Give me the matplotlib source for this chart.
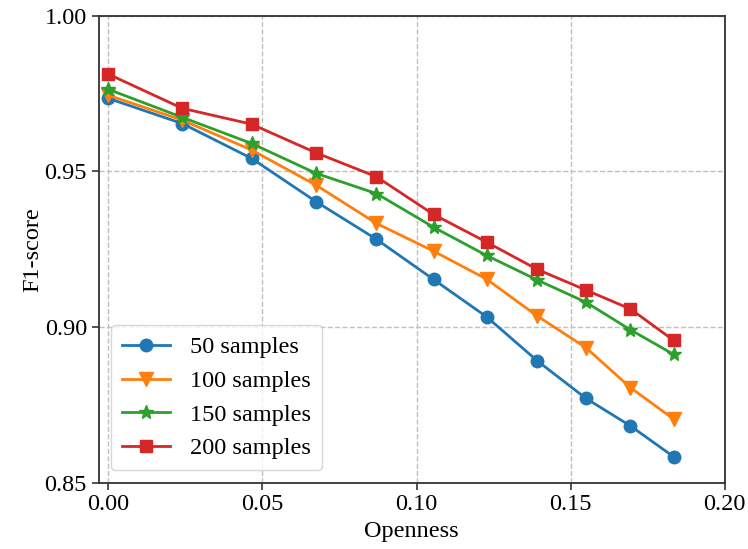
import matplotlib
matplotlib.use("Agg")
import matplotlib.pyplot as plt

plt.rcParams['font.family'] = ['Liberation Serif', 'DejaVu Serif']
plt.rcParams['mathtext.fontset'] = 'stix'

openness = [0.0, 0.0240, 0.0465, 0.0674, 0.0870, 0.1055, 0.1227, 0.1392, 0.1549, 0.1694, 0.1834]

f1_50 = [0.9735, 0.9654, 0.9542, 0.9403, 0.9282, 0.9153, 0.9033, 0.8891, 0.8771, 0.8682, 0.8583]
f1_100 = [0.9745, 0.9665, 0.9569, 0.9456, 0.9333, 0.9244, 0.9154, 0.9035, 0.8934, 0.8805, 0.8704]
f1_150 = [0.9764, 0.9674, 0.9590, 0.9494, 0.9429, 0.9321, 0.9230, 0.9151, 0.9080, 0.8991, 0.8912]
f1_200 = [0.9813, 0.9703, 0.9652, 0.9560, 0.9483, 0.9362, 0.9273, 0.9185, 0.9119, 0.9058, 0.8957]

labels = ["50 samples", "100 samples", "150 samples", "200 samples"]
markers = ["o", "v", "*", "s"]
colors = ["#1f77b4", "#ff7f0e", "#2ca02c", "#d62728"]
sizes = [9, 10, 10, 9]

fig = plt.figure(figsize=(7.48, 5.49), dpi=100)
ax = fig.add_axes([0.132, 0.121, 0.837, 0.850])

for ys, lab, m, c, s in zip([f1_50, f1_100, f1_150, f1_200], labels, markers, colors, sizes):
    ax.plot(openness, ys, marker=m, color=c, label=lab, linewidth=2, markersize=s)

ax.set_xlim(-0.0031, 0.20)
ax.set_ylim(0.85, 1.00)
ax.set_xticks([0.00, 0.05, 0.10, 0.15, 0.20])
ax.set_yticks([0.85, 0.90, 0.95, 1.00])
ax.xaxis.set_major_formatter(matplotlib.ticker.FormatStrFormatter('%.2f'))
ax.yaxis.set_major_formatter(matplotlib.ticker.FormatStrFormatter('%.2f'))
ax.grid(True, linestyle='--', color='#c0c0c0', linewidth=1)
ax.tick_params(labelsize=17.5, width=1.2, length=5, color='#333333')
for sp in ax.spines.values():
    sp.set_linewidth(1.3)
    sp.set_color('#333333')

ax.set_xlabel("Openness", fontsize=17.5)
ax.set_ylabel("F1-score", fontsize=17.5, labelpad=1)
ax.legend(loc='lower left', fontsize=17.5, handlelength=2.0, borderpad=0.45, labelspacing=0.48)

fig.savefig("out.png", dpi=100)
